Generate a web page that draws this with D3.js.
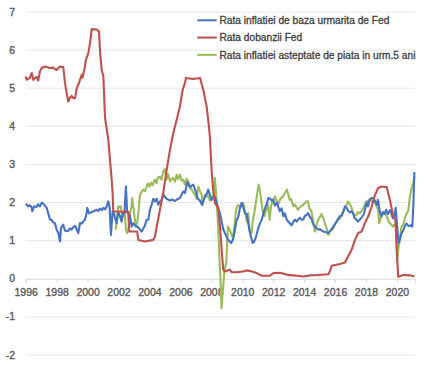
<!DOCTYPE html>
<html><head><meta charset="utf-8">
<script src="https://cdn.jsdelivr.net/npm/d3@7"></script>
<style>body{margin:0;background:#fff}svg{display:block;font-family:"Liberation Sans",Arial,sans-serif}</style>
</head><body><svg id="c" width="426" height="365"></svg>
<script>
const seriesNames = ["Rata inflatiei de baza urmarita de Fed","Rata dobanzii Fed","Rata inflatiei asteptate de piata in urm.5 ani"];
const seriesColors = ["#4472C4","#C0504D","#9BBB59"];
const xTicks = [1996,1998,2000,2002,2004,2006,2008,2010,2012,2014,2016,2018,2020];
const yTicks = [-2,-1,0,1,2,3,4,5,6,7];

// [year, value]
const coreInflation = [
[1996.00,1.97],[1996.15,1.90],[1996.28,1.93],[1996.39,1.86],[1996.43,1.77],[1996.54,1.90],[1996.67,1.88],[1996.80,1.95],[1996.92,1.90],[1997.05,2.00],[1997.18,1.95],[1997.36,1.86],[1997.57,1.55],[1997.68,1.55],[1997.78,1.48],[1997.89,1.46],[1998.00,1.29],[1998.11,1.20],[1998.22,0.98],[1998.28,1.33],[1998.43,1.42],[1998.54,1.26],[1998.73,1.25],[1998.86,1.32],[1998.97,1.29],[1999.06,1.35],[1999.19,1.39],[1999.32,1.28],[1999.40,1.20],[1999.51,1.46],[1999.62,1.45],[1999.72,1.50],[1999.83,1.55],[1999.94,1.72],[1999.98,1.86],[2000.09,1.72],[2000.29,1.75],[2000.42,1.78],[2000.59,1.81],[2000.67,1.78],[2000.80,1.84],[2000.93,1.80],[2001.02,1.86],[2001.13,1.82],[2001.24,1.90],[2001.34,2.03],[2001.42,1.90],[2001.51,1.15],[2001.62,1.77],[2001.71,1.72],[2001.77,1.60],[2001.88,1.46],[2001.98,1.75],[2002.09,1.65],[2002.20,1.50],[2002.28,1.70],[2002.38,1.72],[2002.48,2.42],[2002.56,1.75],[2002.67,1.70],[2002.74,1.64],[2002.85,1.37],[2002.95,1.46],[2003.06,1.40],[2003.17,1.37],[2003.28,1.35],[2003.39,1.29],[2003.50,1.24],[2003.60,1.32],[2003.71,1.40],[2003.82,1.55],[2003.93,1.55],[2004.03,1.81],[2004.14,1.94],[2004.25,2.10],[2004.36,2.03],[2004.47,2.10],[2004.57,1.94],[2004.68,2.03],[2004.79,2.07],[2004.89,2.22],[2005.00,2.15],[2005.11,2.10],[2005.33,2.05],[2005.46,2.08],[2005.65,2.04],[2005.78,2.08],[2005.97,2.12],[2006.19,2.29],[2006.30,2.25],[2006.45,2.53],[2006.51,2.51],[2006.62,2.40],[2006.75,2.45],[2006.83,2.47],[2006.94,2.35],[2007.05,2.22],[2007.13,2.10],[2007.27,2.05],[2007.39,1.94],[2007.49,2.05],[2007.60,2.16],[2007.73,2.25],[2007.80,2.34],[2007.91,2.20],[2008.02,2.07],[2008.10,2.12],[2008.23,2.16],[2008.34,1.99],[2008.45,1.85],[2008.56,1.72],[2008.67,1.50],[2008.77,1.30],[2008.88,1.20],[2008.99,1.11],[2009.07,1.02],[2009.20,0.98],[2009.29,0.94],[2009.42,1.05],[2009.53,1.30],[2009.64,1.55],[2009.73,1.60],[2009.85,1.85],[2009.96,1.99],[2010.05,1.90],[2010.18,1.72],[2010.29,1.70],[2010.39,1.45],[2010.50,1.20],[2010.60,1.05],[2010.68,0.94],[2010.76,0.96],[2010.89,1.10],[2011.04,1.33],[2011.15,1.46],[2011.26,1.55],[2011.36,1.70],[2011.47,1.85],[2011.58,1.95],[2011.69,2.12],[2011.81,2.10],[2011.91,2.05],[2012.01,2.07],[2012.12,1.92],[2012.25,2.00],[2012.42,1.77],[2012.54,1.85],[2012.66,1.64],[2012.75,1.72],[2012.88,1.55],[2013.07,1.46],[2013.19,1.40],[2013.31,1.50],[2013.40,1.55],[2013.52,1.50],[2013.60,1.55],[2013.73,1.60],[2013.83,1.55],[2013.94,1.55],[2014.03,1.64],[2014.11,1.66],[2014.26,1.72],[2014.38,1.62],[2014.46,1.59],[2014.57,1.45],[2014.70,1.37],[2014.79,1.33],[2014.92,1.29],[2015.02,1.30],[2015.24,1.24],[2015.41,1.22],[2015.56,1.20],[2015.67,1.25],[2015.80,1.32],[2015.94,1.40],[2016.10,1.50],[2016.30,1.64],[2016.42,1.65],[2016.53,1.75],[2016.64,1.90],[2016.75,1.86],[2016.85,1.78],[2016.96,1.74],[2017.06,1.77],[2017.17,1.72],[2017.26,1.59],[2017.39,1.55],[2017.48,1.50],[2017.60,1.55],[2017.74,1.62],[2017.87,1.70],[2018.04,2.00],[2018.13,1.90],[2018.24,2.07],[2018.35,2.12],[2018.45,2.12],[2018.58,2.05],[2018.69,1.94],[2018.78,2.07],[2018.90,1.75],[2018.98,1.64],[2019.09,1.75],[2019.19,1.70],[2019.31,1.81],[2019.42,1.70],[2019.55,1.80],[2019.65,1.70],[2019.74,1.59],[2019.84,1.65],[2019.92,1.86],[2020.00,1.46],[2020.11,0.94],[2020.20,1.05],[2020.29,1.18],[2020.39,1.25],[2020.50,1.37],[2020.61,1.45],[2020.73,1.40],[2020.84,1.38],[2020.94,1.42],[2021.00,1.37],[2021.06,1.90],[2021.13,2.80]
];
const fedRate = [
[1996.00,5.31],[1996.06,5.22],[1996.28,5.28],[1996.39,5.40],[1996.49,5.22],[1996.71,5.30],[1996.81,5.20],[1996.92,5.44],[1997.03,5.53],[1997.25,5.57],[1997.57,5.53],[1997.78,5.54],[1997.89,5.50],[1998.00,5.48],[1998.11,5.53],[1998.22,5.57],[1998.43,5.55],[1998.54,5.14],[1998.65,4.87],[1998.75,4.65],[1998.86,4.75],[1998.97,4.80],[1999.08,4.74],[1999.19,4.74],[1999.30,5.00],[1999.40,5.09],[1999.51,5.22],[1999.62,5.35],[1999.68,5.28],[1999.83,5.57],[1999.90,5.75],[2000.05,5.92],[2000.16,6.19],[2000.27,6.55],[2000.59,6.54],[2000.74,6.49],[2000.80,6.00],[2000.91,5.49],[2001.02,5.31],[2001.13,4.22],[2001.34,3.65],[2001.45,3.12],[2001.56,2.60],[2001.62,2.25],[2001.66,1.77],[2002.63,1.75],[2002.70,1.24],[2003.21,1.24],[2003.28,1.02],[2003.71,0.98],[2004.25,1.02],[2004.36,1.11],[2004.47,1.37],[2004.68,1.81],[2004.89,2.25],[2005.11,2.85],[2005.33,3.39],[2005.54,3.82],[2005.76,4.17],[2005.97,4.52],[2006.15,4.96],[2006.30,5.14],[2006.36,5.27],[2006.81,5.24],[2007.27,5.27],[2007.48,4.96],[2007.70,4.52],[2007.80,4.17],[2007.91,3.73],[2008.02,2.86],[2008.10,2.42],[2008.23,1.99],[2008.45,1.86],[2008.56,1.37],[2008.67,0.76],[2008.77,0.24],[2008.88,0.19],[2009.20,0.24],[2009.33,0.17],[2009.64,0.17],[2010.05,0.19],[2010.29,0.22],[2010.63,0.19],[2010.93,0.15],[2011.26,0.08],[2011.79,0.08],[2012.01,0.15],[2012.44,0.16],[2012.87,0.11],[2013.28,0.09],[2013.95,0.06],[2014.38,0.09],[2014.90,0.10],[2015.57,0.12],[2015.67,0.20],[2015.78,0.34],[2016.32,0.39],[2016.64,0.43],[2016.85,0.59],[2017.07,0.76],[2017.29,1.02],[2017.50,1.20],[2017.72,1.24],[2017.93,1.46],[2018.15,1.64],[2018.37,1.90],[2018.58,2.20],[2018.79,2.38],[2019.01,2.42],[2019.34,2.41],[2019.55,2.07],[2019.76,1.64],[2019.90,1.55],[2020.02,0.50],[2020.09,0.05],[2020.41,0.10],[2020.84,0.09],[2021.13,0.06]
];
const expectedInflation = [
[2001.82,1.29],[2001.90,1.55],[2001.98,1.90],[2002.09,1.88],[2002.15,1.90],[2002.25,1.60],[2002.35,1.75],[2002.41,1.70],[2002.48,1.29],[2002.56,1.20],[2002.64,1.30],[2002.74,1.72],[2002.84,1.90],[2002.89,2.12],[2002.97,1.85],[2003.06,1.55],[2003.14,1.37],[2003.22,1.50],[2003.29,1.75],[2003.39,2.20],[2003.50,2.29],[2003.60,2.34],[2003.71,2.30],[2003.82,2.42],[2003.90,2.50],[2004.00,2.42],[2004.10,2.52],[2004.20,2.45],[2004.29,2.55],[2004.36,2.60],[2004.45,2.50],[2004.55,2.66],[2004.68,2.68],[2004.78,2.60],[2004.89,2.82],[2005.00,2.88],[2005.11,2.60],[2005.20,2.75],[2005.33,2.55],[2005.42,2.62],[2005.54,2.64],[2005.65,2.55],[2005.76,2.73],[2005.84,2.62],[2005.97,2.73],[2006.07,2.58],[2006.19,2.60],[2006.30,2.47],[2006.41,2.62],[2006.51,2.55],[2006.62,2.40],[2006.72,2.35],[2006.81,2.28],[2006.94,2.20],[2007.05,2.10],[2007.16,2.42],[2007.27,2.30],[2007.38,2.20],[2007.44,1.94],[2007.53,2.10],[2007.59,2.20],[2007.70,2.16],[2007.78,2.18],[2007.91,2.05],[2008.01,2.10],[2008.13,2.20],[2008.23,2.64],[2008.34,2.10],[2008.45,1.30],[2008.54,0.41],[2008.59,0.00],[2008.66,-0.77],[2008.75,-0.30],[2008.85,0.20],[2008.97,0.45],[2009.08,1.37],[2009.17,1.30],[2009.27,1.20],[2009.40,1.07],[2009.50,1.40],[2009.59,1.80],[2009.73,1.94],[2009.85,1.88],[2009.94,1.90],[2010.07,1.99],[2010.17,1.75],[2010.30,1.50],[2010.39,1.72],[2010.47,1.29],[2010.60,1.20],[2010.69,1.55],[2010.79,1.75],[2010.91,2.07],[2010.99,2.30],[2011.06,2.47],[2011.15,2.30],[2011.21,2.10],[2011.34,1.72],[2011.44,1.65],[2011.54,1.80],[2011.66,1.94],[2011.77,1.55],[2011.86,1.90],[2011.99,2.07],[2012.12,2.16],[2012.31,1.94],[2012.41,2.05],[2012.52,2.12],[2012.63,2.15],[2012.76,2.25],[2012.89,2.34],[2013.07,2.07],[2013.15,2.10],[2013.30,1.90],[2013.41,1.95],[2013.60,1.81],[2013.73,1.88],[2013.94,1.94],[2014.16,2.03],[2014.25,2.03],[2014.34,1.85],[2014.47,1.78],[2014.59,1.50],[2014.70,1.24],[2014.79,1.40],[2014.92,1.55],[2015.12,1.70],[2015.25,1.58],[2015.35,1.45],[2015.44,1.35],[2015.56,1.15],[2015.67,1.25],[2015.86,1.30],[2015.99,1.42],[2016.18,1.55],[2016.31,1.58],[2016.50,1.75],[2016.64,1.86],[2016.85,2.03],[2016.96,1.95],[2017.06,1.88],[2017.17,1.72],[2017.28,1.65],[2017.39,1.68],[2017.48,1.75],[2017.61,1.72],[2017.74,1.80],[2017.87,1.90],[2018.03,2.03],[2018.13,2.05],[2018.26,2.10],[2018.39,2.03],[2018.52,2.02],[2018.65,1.94],[2018.78,1.80],[2018.86,1.46],[2018.94,1.58],[2019.04,1.65],[2019.13,1.75],[2019.23,1.72],[2019.33,1.65],[2019.42,1.55],[2019.53,1.46],[2019.65,1.42],[2019.74,1.37],[2019.84,1.42],[2019.94,1.42],[2020.02,0.50],[2020.10,0.80],[2020.20,1.02],[2020.29,1.37],[2020.41,1.42],[2020.52,1.60],[2020.63,1.72],[2020.73,1.78],[2020.84,2.16],[2020.94,2.35],[2021.06,2.51],[2021.13,2.68]
];

const svg = d3.select("#c");
const x = d3.scaleLinear().domain([1996, 2021.17]).range([25.7, 415]);
const y = d3.scaleLinear().domain([-2, 7]).range([355, 12]);

// gridlines
svg.append("g").selectAll("line").data(yTicks.filter(d=>d!==0)).join("line")
  .attr("x1", 25.7).attr("x2", 415).attr("y1", d=>y(d)).attr("y2", d=>y(d))
  .attr("stroke", "#e6e6e6").attr("stroke-width", 1);

// y labels
svg.append("g").selectAll("text").data(yTicks).join("text")
  .attr("x", 15).attr("y", d=>y(d)+3.5).attr("text-anchor","end")
  .attr("font-size", 10.5).attr("fill", "#595959")
  .attr("stroke", "#595959").attr("stroke-width", 0.35).text(d=>d);

// x axis at zero
const xAxis = d3.axisBottom(x).tickValues(xTicks).tickFormat(d3.format("d")).tickSize(4).tickPadding(6);
const gx = svg.append("g").attr("transform", `translate(0,${y(0)})`).call(xAxis);
gx.select(".domain").attr("stroke", "#d9d9d9");
gx.selectAll(".tick line").attr("stroke", "#d9d9d9");
gx.selectAll("text").attr("font-size", 10.5).attr("fill", "#595959")
  .attr("stroke", "#595959").attr("stroke-width", 0.35)
  .attr("font-family", '"Liberation Sans",Arial,sans-serif');

const line = d3.line().x(d=>x(d[0])).y(d=>y(d[1]));
const allSeries = [coreInflation, fedRate, expectedInflation];
[2,0,1].forEach(i => {
  svg.append("path").datum(allSeries[i]).attr("d", line)
    .attr("fill","none").attr("stroke", seriesColors[i]).attr("stroke-width", 2.1).attr("stroke-linejoin","round");
});

// legend
const lg = svg.append("g");
seriesNames.forEach((n,i) => {
  const ly = 20.3 + i*17.3;
  lg.append("line").attr("x1",197.3).attr("x2",216.7).attr("y1",ly).attr("y2",ly)
    .attr("stroke", seriesColors[i]).attr("stroke-width", 2);
  lg.append("text").attr("x",219.5).attr("y",ly+3.8).attr("font-size",10.2)
    .attr("fill","#404040").attr("stroke","#404040").attr("stroke-width",0.3).text(n);
});
</script></body></html>
